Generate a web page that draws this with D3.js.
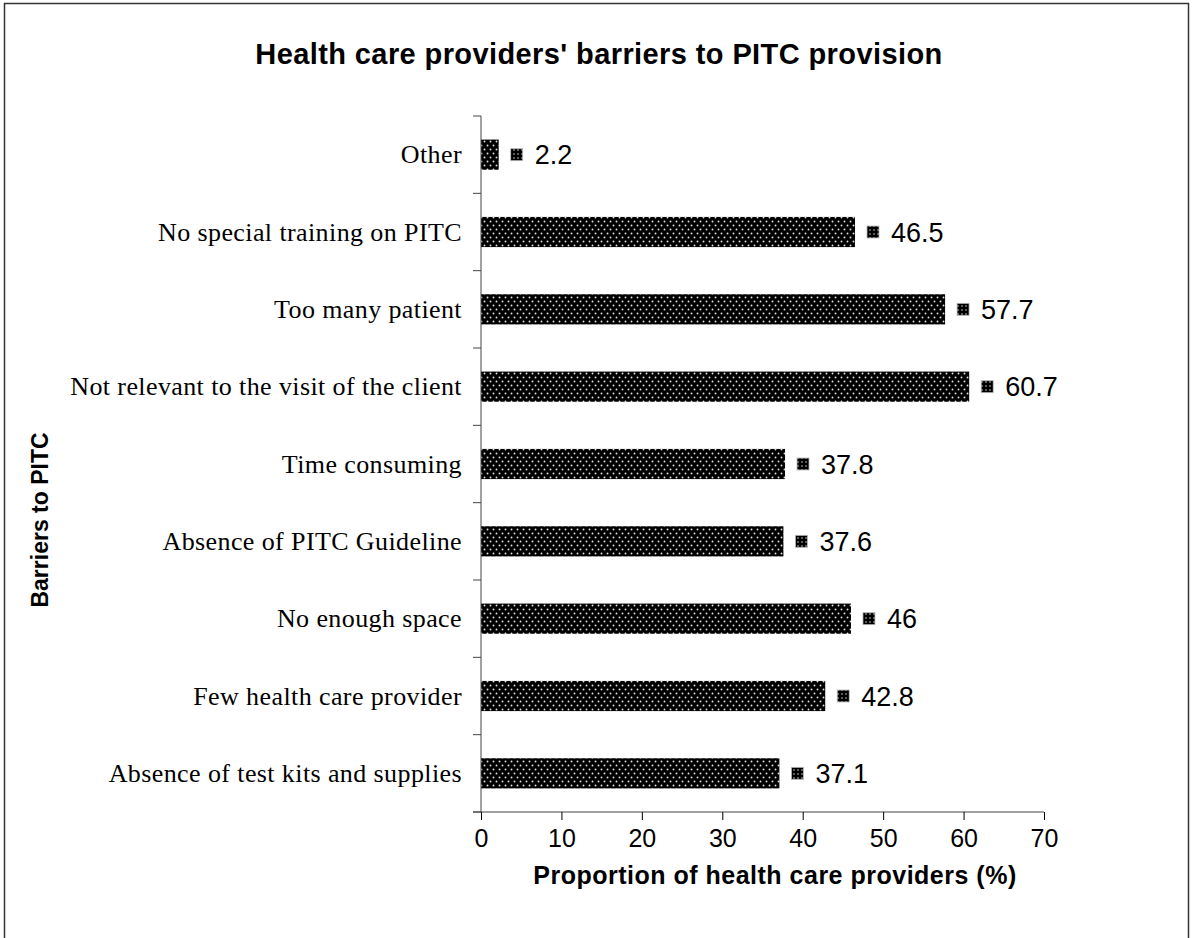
<!DOCTYPE html>
<html>
<head>
<meta charset="utf-8">
<script src="https://cdn.jsdelivr.net/npm/d3@7"></script>
<style>
  body { margin: 0; background: #fff; }
</style>
</head>
<body>
<div id="graph"></div>
<script>
let width = 1193;
let height = 938;

// categories from top to bottom
let categories = [
    "Other",
    "No special training on PITC",
    "Too many patient",
    "Not relevant to the visit of the client",
    "Time consuming",
    "Absence of PITC Guideline",
    "No enough space",
    "Few health care provider",
    "Absence of test kits and supplies"
];
let values = [2.2, 46.5, 57.7, 60.7, 37.8, 37.6, 46, 42.8, 37.1];
let valueLabels = ["2.2", "46.5", "57.7", "60.7", "37.8", "37.6", "46", "42.8", "37.1"];
let xTicks = [0, 10, 20, 30, 40, 50, 60, 70];

let svg = d3.select('#graph')
    .append('svg')
        .attr('width', width)
        .attr('height', height);

// dotted fill like the original
let defs = svg.append('defs');
let pat = defs.append('pattern')
    .attr('id', 'dots')
    .attr('patternUnits', 'userSpaceOnUse')
    .attr('width', 6)
    .attr('height', 8);
pat.append('rect').attr('width', 6).attr('height', 8).attr('fill', '#000');
pat.append('circle').attr('cx', 1.5).attr('cy', 1.5).attr('r', 0.95).attr('fill', '#ddd');
pat.append('circle').attr('cx', 4.5).attr('cy', 5.5).attr('r', 0.95).attr('fill', '#ddd');

let pat2 = defs.append('pattern')
    .attr('id', 'dotsSmall')
    .attr('patternUnits', 'userSpaceOnUse')
    .attr('width', 4)
    .attr('height', 4);
pat2.append('rect').attr('width', 4).attr('height', 4).attr('fill', '#000');
pat2.append('circle').attr('cx', 2).attr('cy', 2).attr('r', 0.8).attr('fill', '#ccc');

// outer frame
svg.append('rect')
    .attr('x', 4.5).attr('y', 3.5)
    .attr('width', 1184).attr('height', 940)
    .attr('fill', 'none')
    .attr('stroke', '#333')
    .attr('stroke-width', 1.5);

let plotLeft = 481, plotRight = 1044, plotTop = 116, plotBottom = 812;

let x = d3.scaleLinear()
    .domain([0, 70])
    .range([plotLeft, plotRight]);

let y = d3.scaleBand()
    .domain(categories)
    .range([plotTop, plotBottom])
    .paddingInner(0.61)
    .paddingOuter(0.305);

// bars
svg.selectAll('.bar')
    .data(categories)
    .enter()
    .append('rect')
        .attr('class', 'bar')
        .attr('x', x(0))
        .attr('y', d => y(d))
        .attr('width', (d, i) => x(values[i]) - x(0))
        .attr('height', y.bandwidth())
        .attr('fill', 'url(#dots)');

// value labels with little marker
categories.forEach(function(d, i){
    let cy = y(d) + y.bandwidth() / 2;
    let bx = x(values[i]);
    svg.append('rect')
        .attr('x', bx + 12)
        .attr('y', cy - 6)
        .attr('width', 12)
        .attr('height', 12)
        .attr('fill', 'url(#dotsSmall)')
        .attr('stroke', '#bbb')
        .attr('stroke-width', 0.8);
    svg.append('text')
        .attr('x', bx + 36)
        .attr('y', cy)
        .attr('dy', '0.36em')
        .style('font-family', 'Liberation Sans, Arial, sans-serif')
        .style('font-size', '27px')
        .text(valueLabels[i]);
});

// x axis
let xAxis = d3.axisBottom(x)
    .tickValues(xTicks)
    .tickSize(8)
    .tickSizeOuter(0)
    .tickFormat(d3.format('d'));
let gx = svg.append('g')
    .attr('transform', 'translate(0,' + plotBottom + ')')
    .call(xAxis);
gx.select('.domain').attr('stroke', '#444').attr('d', 'M' + (plotLeft - 8) + ',0H' + plotRight);
gx.selectAll('.tick line').attr('stroke', '#000');
gx.selectAll('text')
    .attr('dy', null)
    .attr('y', 35)
    .style('font-family', 'Liberation Sans, Arial, sans-serif')
    .style('font-size', '25px')
    .attr('fill', '#000');

// y axis: ticks at band boundaries
let gy = svg.append('g');
gy.append('line')
    .attr('x1', plotLeft).attr('x2', plotLeft)
    .attr('y1', plotTop).attr('y2', plotBottom)
    .attr('stroke', '#444');
d3.range(categories.length + 1).forEach(function(i){
    let yy = plotTop + i * y.step();
    gy.append('line')
        .attr('x1', plotLeft - 8).attr('x2', plotLeft)
        .attr('y1', yy).attr('y2', yy)
        .attr('stroke', '#444');
});
svg.selectAll('.cat')
    .data(categories)
    .enter()
    .append('text')
        .attr('class', 'cat')
        .attr('x', 462)
        .attr('y', d => y(d) + y.bandwidth() / 2)
        .attr('dy', '0.33em')
        .attr('text-anchor', 'end')
        .style('font-family', 'Liberation Serif, Times New Roman, serif')
        .style('font-size', '26px')
        .style('letter-spacing', '0.4px')
        .text(d => d);

// titles
svg.append('text')
    .attr('x', 599)
    .attr('y', 64)
    .attr('text-anchor', 'middle')
    .style('font-family', 'Liberation Sans, Arial, sans-serif')
    .style('font-size', '29px')
    .style('font-weight', 'bold')
    .style('letter-spacing', '0.4px')
    .text("Health care providers' barriers to PITC provision");

svg.append('text')
    .attr('x', 775)
    .attr('y', 884)
    .attr('text-anchor', 'middle')
    .style('font-family', 'Liberation Sans, Arial, sans-serif')
    .style('font-size', '25px')
    .style('font-weight', 'bold')
    .style('letter-spacing', '0.5px')
    .text('Proportion of health care providers (%)');

svg.append('text')
    .attr('transform', 'translate(48,520) rotate(-90)')
    .attr('text-anchor', 'middle')
    .style('font-family', 'Liberation Sans, Arial, sans-serif')
    .style('font-size', '23px')
    .style('font-weight', 'bold')
    .text('Barriers to PITC');
</script>
</body>
</html>
